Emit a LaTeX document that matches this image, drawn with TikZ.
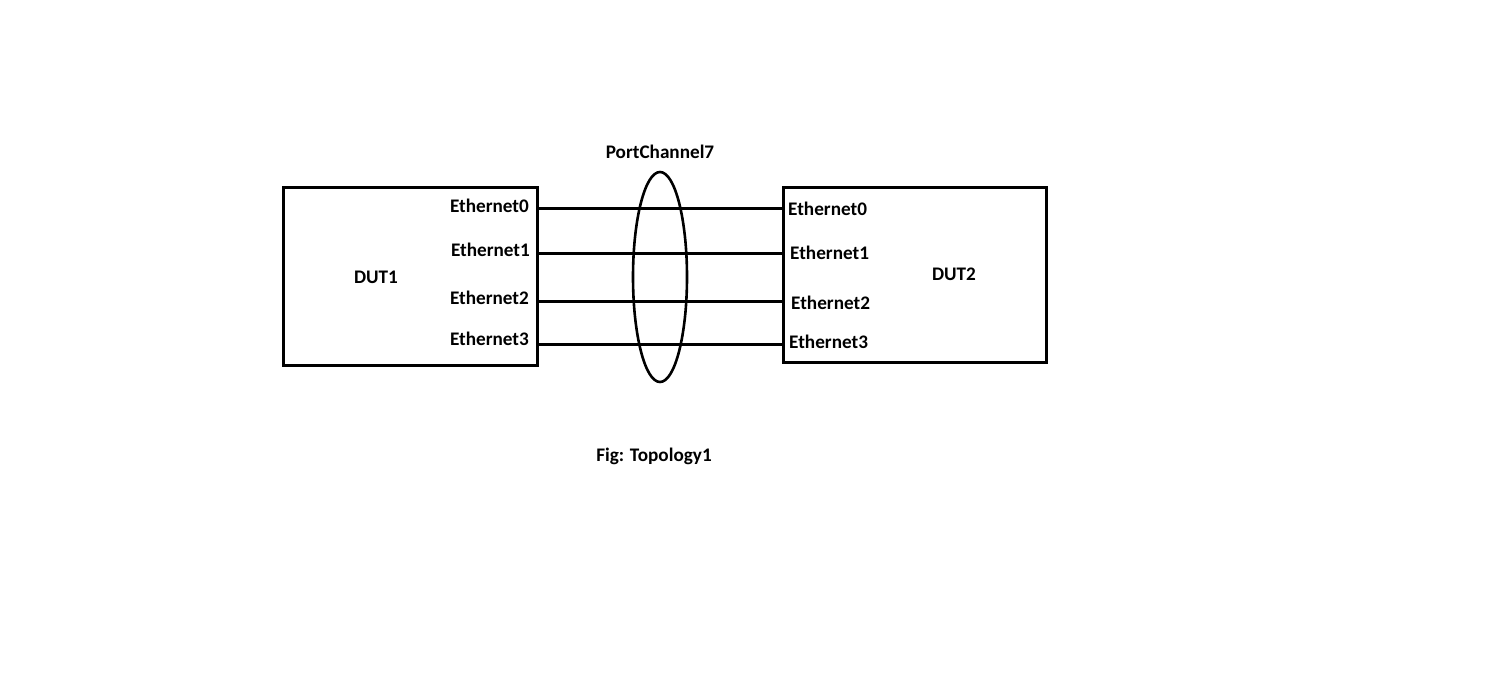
\documentclass[tikz,border=0pt]{standalone}
\usepackage{fontspec}
\setmainfont{Carlito}
\tikzset{
  dev/.style={draw, line width=3pt},
  link/.style={line width=3pt},
  lbl/.style={font=\fontsize{19.2}{21}\selectfont\bfseries, inner sep=0pt},
  bundle/.style={draw, line width=2.6pt}
}
\begin{document}
\begin{tikzpicture}[x=1pt,y=-1pt]
\useasboundingbox[fill=white] (0,0) rectangle (1487,674);
\draw[dev] (283,187) rectangle (537,365);
\draw[dev] (783,187) rectangle (1046,362);
\node[lbl] (dut1) at (376,277) {DUT1};
\node[lbl] (dut2) at (954,274) {DUT2};
% port end points
\coordinate (l0) at (537,208);
\coordinate (l1) at (537,253);
\coordinate (l2) at (537,301);
\coordinate (l3) at (537,344);
\coordinate (r0) at (783,208);
\coordinate (r1) at (783,253);
\coordinate (r2) at (783,301);
\coordinate (r3) at (783,344);
\node[lbl, anchor=east] (a0) at (529,206) {Ethernet0};
\node[lbl, anchor=east] (a1) at (530,250) {Ethernet1};
\node[lbl, anchor=east] (a2) at (529,298) {Ethernet2};
\node[lbl, anchor=east] (a3) at (529,339) {Ethernet3};
\node[lbl, anchor=west] (b0) at (788,209) {Ethernet0};
\node[lbl, anchor=west] (b1) at (790,253) {Ethernet1};
\node[lbl, anchor=west] (b2) at (791,303) {Ethernet2};
\node[lbl, anchor=west] (b3) at (789,342) {Ethernet3};
\draw[link] (l0) -- (r0);
\draw[link] (l1) -- (r1);
\draw[link] (l2) -- (r2);
\draw[link] (l3) -- (r3);
\draw[bundle] (660,277) ellipse [x radius=27, y radius=105];
\node[lbl] (pc) at (660,152) {PortChannel7};
\node[lbl] (fig) at (654,456) {Fig: Topology1};
\end{tikzpicture}
\end{document}
